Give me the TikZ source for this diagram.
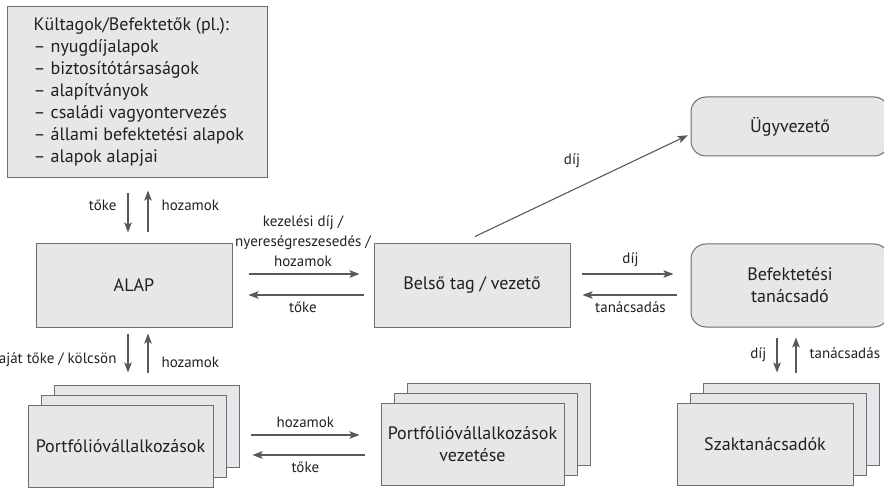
\documentclass[tikz,border=0pt]{standalone}
\usepackage{fontspec}
\setmainfont{PT Sans}
\usetikzlibrary{arrows.meta,positioning,shadows}
\definecolor{boxfill}{HTML}{E6E7E8}
\definecolor{edgec}{HTML}{6D6E71}
\definecolor{arrowc}{HTML}{58595B}
\definecolor{txt}{HTML}{231F20}
\newcommand\listline[1]{\makebox[17pt][l]{--}#1}

\begin{document}
\begin{tikzpicture}[x=1pt, y=-1pt, on grid, node distance=100pt,
    >={Stealth[length=10pt, width=7.5pt, inset=2pt]},
    box/.style={draw=edgec, fill=boxfill, line width=1pt, text=txt, align=center,
      minimum width=196pt, minimum height=83pt, font=\fontsize{18}{22}\selectfont},
    rbox/.style={box, minimum width=198pt, rounded corners=15pt},
    stack/.style={box, minimum height=82pt,
      copy shadow={shadow xshift=26pt, shadow yshift=20pt},
      copy shadow={shadow xshift=13pt, shadow yshift=10pt}},
    lbl/.style={text=txt, align=center, inner sep=2pt, font=\fontsize{15}{20}\selectfont},
    flow/.style={->, arrowc, line width=1.1pt}]
  \useasboundingbox (0,0) rectangle (884,489);

  \node[box, minimum width=260pt, minimum height=171pt] (kult) at (137,92.5) {};
  \node[anchor=west, align=left, text=txt, inner sep=0pt,
        font=\fontsize{18}{22}\selectfont] (kulttext) at ([xshift=27pt]kult.west)
    {Kültagok/Befektetők (pl.):\\
     \listline{nyugdíjalapok}\\
     \listline{biztosítótársaságok}\\
     \listline{alapítványok}\\
     \listline{családi vagyontervezés}\\
     \listline{állami befektetési alapok}\\
     \listline{alapok alapjai}};
  \node[box] (alap) at (134,285.5) {ALAP};
  \node[box, right=338pt of alap] (belso) {Belső tag / vezető};
  \node[rbox, right=318pt of belso] (bef) {Befektetési\\tanácsadó};
  \node[rbox, minimum height=59pt, above=159pt of bef] (ugy) {Ügyvezető};
  \node[stack, minimum width=185pt] (portf) at (120.5,446) {Portfólióvállalkozások};
  \node[stack, minimum width=183pt] (vez) at (472.5,444) {Portfólióvállalkozások\\vezetése};
  \node[stack, minimum width=176pt] (szak) at (765,444) {Szaktanácsadók};

  % kultagok <-> alap
  \path[flow] ([xshift=-6pt]alap.north |- kult.south) edge[shorten <=15pt, shorten >=11pt]
    node[lbl, pos=0.41, anchor=east, xshift=-9pt] {tőke} ([xshift=-6pt]alap.north);
  \path[flow] ([xshift=14pt]alap.north) edge[shorten <=11pt, shorten >=12pt]
    node[lbl, pos=0.59, anchor=west, xshift=11pt] {hozamok} ([xshift=14pt]alap.north |- kult.south);
  % alap <-> belso
  \path[flow] ([yshift=11.5pt]alap.east) edge[shorten <=16pt, shorten >=14pt]
    node[lbl, anchor=south, yshift=5pt] {kezelési díj /\\nyereségreszesedés /\\hozamok} ([yshift=11.5pt]belso.west);
  \path[flow] ([yshift=-9.5pt]belso.west) edge[shorten <=10pt, shorten >=16pt]
    node[lbl, anchor=north, yshift=-4pt] {tőke} ([yshift=-9.5pt]alap.east);
  % belso -> ugyvezeto
  \path[flow] ([xshift=3pt, yshift=7pt]belso.north) edge[shorten >=3pt]
    node[lbl, pos=0.45, yshift=30pt] {díj} ([yshift=-7.5pt]ugy.west);
  % belso <-> bef
  \path[flow] ([yshift=11.5pt]belso.east) edge[shorten <=11pt, shorten >=17pt]
    node[lbl, anchor=south, yshift=5pt] {díj} ([yshift=11.5pt]bef.west);
  \path[flow] ([yshift=-9.5pt]bef.west) edge[shorten <=14pt, shorten >=12pt]
    node[lbl, anchor=north, yshift=-4pt] {tanácsadás} ([yshift=-9.5pt]belso.east);
  % alap <-> portfolio
  \path[flow] ([xshift=-6pt]alap.south) edge[shorten <=6pt, shorten >=32pt]
    node[lbl, pos=0.42, anchor=east, xshift=-9pt] {saját tőke / kölcsön} ([xshift=-6pt]alap.south |- portf.north);
  \path[flow] ([xshift=14pt]alap.south |- portf.north) edge[shorten <=32pt, shorten >=6pt]
    node[lbl, pos=0.55, anchor=west, xshift=11pt] {hozamok} ([xshift=14pt]alap.south);
  % portfolio <-> vezetes
  \path[flow] ([yshift=11pt]portf.east) edge[shorten <=37pt, shorten >=21pt]
    node[lbl, pos=0.55, anchor=south, yshift=5pt] {hozamok} ([yshift=11pt]portf.east -| vez.west);
  \path[flow] ([yshift=-9pt]portf.east -| vez.west) edge[shorten <=16pt, shorten >=39pt]
    node[lbl, pos=0.45, anchor=north, yshift=-4pt] {tőke} ([yshift=-9pt]portf.east);
  % bef <-> szak
  \path[flow] ([xshift=-13pt]bef.south) edge[shorten <=10pt, shorten >=30pt]
    node[lbl, pos=0.36, anchor=east, xshift=-8pt] {díj} ([xshift=-13pt]bef.south |- szak.north);
  \path[flow] ([xshift=6pt]bef.south |- szak.north) edge[shorten <=30pt, shorten >=10pt]
    node[lbl, pos=0.66, anchor=west, xshift=11pt] {tanácsadás} ([xshift=6pt]bef.south);
\end{tikzpicture}
\end{document}
